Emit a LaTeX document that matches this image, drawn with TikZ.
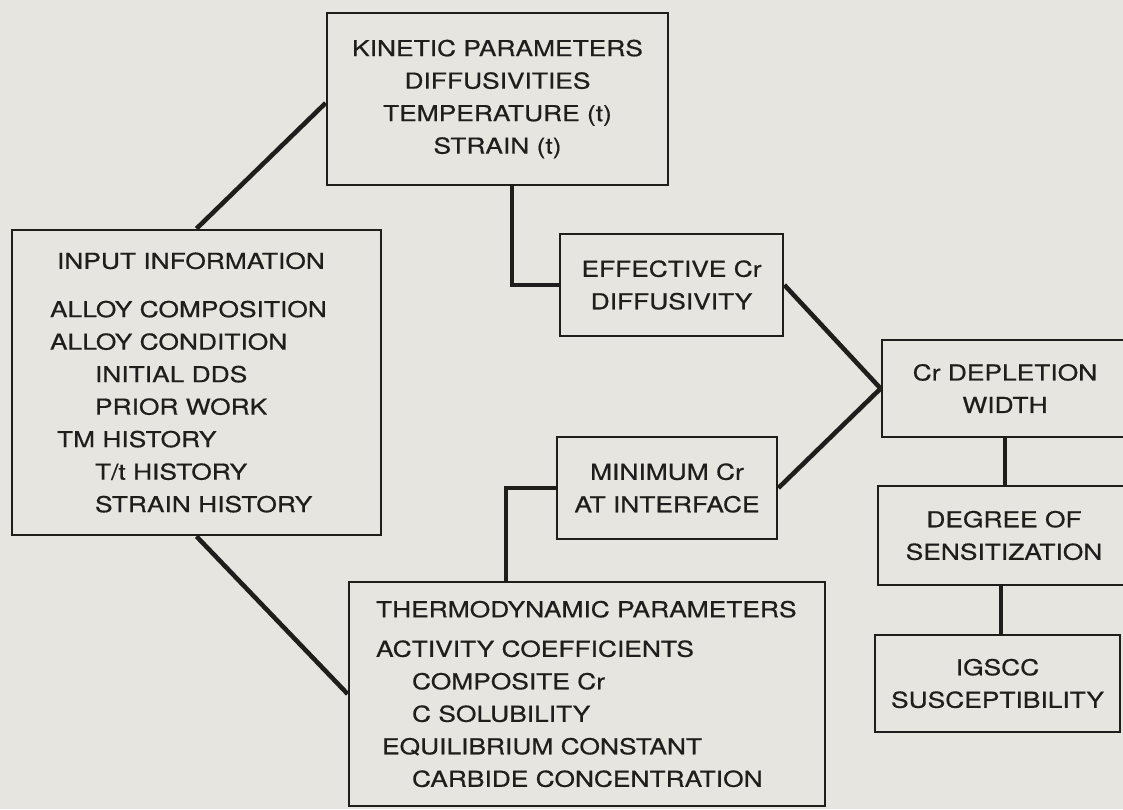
\documentclass[tikz,border=0pt]{standalone}
\usepackage{fontspec}
\setmainfont{TeX Gyre Heros}[FakeStretch=1.2,FakeBold=0.6]
\usepackage{tikz}
\usetikzlibrary{positioning}
\definecolor{paper}{RGB}{230,229,224}
\definecolor{ink}{RGB}{32,30,28}

\begin{document}
\begin{tikzpicture}[x=0.02cm,y=-0.02cm,
  box/.style={draw=ink,line width=1.6pt,inner sep=0pt,text=ink,font=\fontsize{12.5}{18.5}\selectfont},
  mid/.style={box,align=center},
  list/.style={box,align=left},
  link/.style={draw=ink,line width=2.6pt}]

    % The page
	\clip (0,0) rectangle (1123,809);
	\fill[paper] (0,0) rectangle (1123,809);

    % The boxes
	\node [mid, minimum width=6.82cm, minimum height=3.44cm] at (497.5,99) (kin)
	  {KINETIC PARAMETERS\\DIFFUSIVITIES\\TEMPERATURE (t)\\STRAIN (t)};
	\node [list, minimum width=7.38cm, minimum height=6.1cm, text width=5.86cm] at (196.5,382.5) (inp)
	  {\hspace*{0.14cm}INPUT INFORMATION\\[9pt]
	   ALLOY COMPOSITION\\
	   ALLOY CONDITION\\
	   \hspace*{0.9cm}INITIAL DDS\\
	   \hspace*{0.9cm}PRIOR WORK\\
	   \hspace*{0.14cm}TM HISTORY\\
	   \hspace*{0.9cm}T/t HISTORY\\
	   \hspace*{0.9cm}STRAIN HISTORY};
	\node [mid, minimum width=4.46cm, minimum height=2.04cm] at (671.5,285) (eff)
	  {EFFECTIVE Cr\\DIFFUSIVITY};
	\node [mid, minimum width=4.4cm, minimum height=2.04cm] at (667,488) (min)
	  {MINIMUM Cr\\AT INTERFACE};
	\node [list, minimum width=9.52cm, minimum height=4.48cm, text width=8.44cm] at (587,694) (thm)
	  {THERMODYNAMIC PARAMETERS\\[4pt]
	   ACTIVITY COEFFICIENTS\\
	   \hspace*{0.72cm}COMPOSITE Cr\\
	   \hspace*{0.72cm}C SOLUBILITY\\
	   \hspace*{0.12cm}EQUILIBRIUM CONSTANT\\
	   \hspace*{0.72cm}CARBIDE CONCENTRATION};
	\node [mid, minimum width=4.92cm, minimum height=1.94cm] at (1005,388.5) (crw)
	  {Cr DEPLETION\\WIDTH};
	\node [mid, minimum width=5.04cm, minimum height=1.98cm] at (1004,535.5) (dos)
	  {DEGREE OF\\SENSITIZATION};
	\node [mid, minimum width=4.9cm, minimum height=1.94cm] at (997.5,683.5) (igs)
	  {IGSCC\\SUSCEPTIBILITY};

	% Connectors
	\path[link]
	(inp.north) edge ([yshift=-0.08cm]kin.west)
	(inp.south) edge (thm.west)
	(eff.east) edge (crw.west)
	(min.east) edge (crw.west)
	;
	\draw[link] (eff.west) -| ([xshift=0.29cm]kin.south);
	\draw[link] (min.west) -| ([xshift=-1.62cm]thm.north);
	\draw[link] (crw.south) -- (crw.south |- dos.north);
	\draw[link] ([xshift=-0.06cm]dos.south) -- ([xshift=-0.06cm]dos.south |- igs.north);

\end{tikzpicture}
\end{document}
